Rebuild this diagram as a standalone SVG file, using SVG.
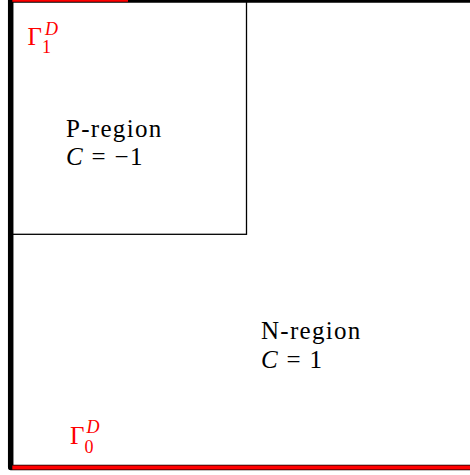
<svg xmlns="http://www.w3.org/2000/svg" width="470" height="475" viewBox="0 0 470 475">
  <style>
    .lbl { font-family: "Liberation Serif", "Times New Roman", serif; font-size: 25px; fill: #000; letter-spacing: 1.3px; }
    .it { font-style: italic; }
    .gam { font-family: "Liberation Serif", "Times New Roman", serif; fill: #ff0000; font-size: 25px; }
    .ss { font-size: 18px; }
    .frame { fill: none; stroke: #000; stroke-linejoin: round; stroke-linecap: butt; }
    .red { fill: none; stroke: #ff0000; stroke-linecap: butt; }
  </style>
  <rect x="0" y="0" width="470" height="475" fill="#fff"/>
  <g id="n-region">
    <path class="frame" d="M10.7 -5 L10.7 467.5 L480 467.5" stroke-width="5.5"/>
    <path class="frame" d="M8 0 L480 0" stroke-width="5.6"/>
    <text class="lbl" x="261" y="339.3">N-region</text>
    <text class="lbl" x="261" y="368.3"><tspan class="it">C</tspan> = 1</text>
  </g>
  <g id="p-region">
    <rect x="10.7" y="0" width="235.8" height="234.3" fill="none" stroke="#000" stroke-width="1.3"/>
    <text class="lbl" x="66" y="136.7">P-region</text>
    <text class="lbl" x="66" y="165.3"><tspan class="it">C</tspan> = −1</text>
  </g>
  <g id="gamma1">
    <path class="red" d="M12.3 0 L128 0" stroke-width="3.6"/>
    <text class="gam" x="27.5" y="45">Γ<tspan class="ss" x="42" y="53">1</tspan><tspan class="ss it" x="45" y="35">D</tspan></text>
  </g>
  <g id="gamma0">
    <path class="red" d="M12.3 467.5 L480 467.5" stroke-width="4.2"/>
    <text class="gam" x="70" y="443.5">Γ<tspan class="ss" x="84.6" y="453">0</tspan><tspan class="ss it" x="86.5" y="433">D</tspan></text>
  </g>
  <g id="connectors"/>
</svg>
